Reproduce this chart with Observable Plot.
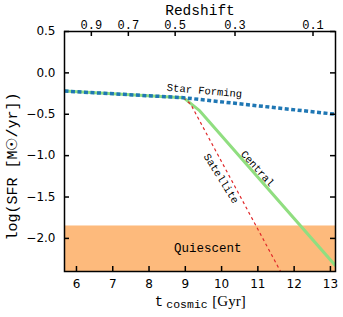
<!DOCTYPE html>
<html>
<head>
<meta charset="utf-8">
<script src="https://cdn.jsdelivr.net/npm/d3@7"></script>
<script src="https://cdn.jsdelivr.net/npm/@observablehq/plot@0.6"></script>
<style>
  html, body { margin: 0; padding: 0; background: #fff; }
</style>
</head>
<body>
<div id="chart"></div>
<script>
// ---- data ----
const xDomain = [5.67, 13.14];
const yDomain = [-2.4, 0.5];
const xTicks = [6, 7, 8, 9, 10, 11, 12, 13];
const yTicks = [0.5, 0.0, -0.5, -1.0, -1.5, -2.0];
const zLabels = ["0.9", "0.7", "0.5", "0.3", "0.1"];
const zTimes = [6.41, 7.43, 8.72, 10.37, 12.52];

const sfT = [5.67, 8.95, 13.14];
const sfV = [-0.22, -0.30, -0.50];
const cenT = [5.67, 8.95, 9.4, 13.14];
const cenV = [-0.22, -0.30, -0.46, -2.33];
const satT = [8.95, 9.15, 11.65];
const satV = [-0.30, -0.38, -2.42];
const quiescentBand = [-2.4, -1.85];

const labels = [
  {text: "Star Forming", t: 9.53, v: -0.215, rot: 5, size: 10.5},
  {text: "Central", t: 10.99, v: -1.157, rot: 48, size: 10.5},
  {text: "Satellite", t: 9.99, v: -1.277, rot: 58, size: 10.5},
  {text: "Quiescent", t: 9.62, v: -2.12, rot: 0, size: 12.5}
];

const pts = (T, V) => T.map((t, i) => ({t, v: V[i]}));
const innerW = 343 - 64 - 8;
const innerH = 317 - 31 - 46;
const tl = 5;

const chart = Plot.plot({
  width: 343,
  height: 317,
  marginLeft: 64,
  marginRight: 8,
  marginTop: 31,
  marginBottom: 46,
  style: {fontFamily: "DejaVu Sans", fontSize: "12px", color: "#000", background: "#fff"},
  x: {domain: xDomain},
  y: {domain: yDomain},
  marks: [
    Plot.rect([quiescentBand], {y1: d => d[0], y2: d => d[1], fill: "#fdba7c"}),
    Plot.line(pts(cenT, cenV), {x: "t", y: "v", stroke: "#90de80", strokeWidth: 3, strokeLinecap: "butt", clip: true}),
    Plot.line(pts(satT, satV), {x: "t", y: "v", stroke: "#e0282a", strokeWidth: 1.2, strokeDasharray: "3,3", strokeLinecap: "butt", clip: true}),
    Plot.line(pts(sfT, sfV), {x: "t", y: "v", stroke: "#1f77b4", strokeWidth: 3.5, strokeDasharray: "4,2.5", strokeLinecap: "butt", strokeLinejoin: "miter", clip: true}),
    Plot.text(labels, {x: "t", y: "v", text: "text", rotate: "rot", fontSize: d => d.size, fontFamily: "Liberation Mono", fill: "#000"}),
    Plot.frame({stroke: "#000", strokeWidth: 1.5}),
    Plot.tickX(xTicks, {x: d => d, insetTop: innerH - tl, stroke: "#000", strokeWidth: 1.5}),
    Plot.tickX(zTimes, {x: d => d, insetBottom: innerH - tl, stroke: "#000", strokeWidth: 1.5}),
    Plot.tickY(yTicks, {y: d => d, insetRight: innerW - tl, stroke: "#000", strokeWidth: 1.5}),
    Plot.tickY(yTicks, {y: d => d, insetLeft: innerW - tl, stroke: "#000", strokeWidth: 1.5}),
    Plot.axisX(xTicks, {tickSize: 0, tickPadding: 8, tickFormat: d => String(d), fontSize: 12, label: null}),
    Plot.axisY(yTicks, {tickSize: 0, tickPadding: 9, tickFormat: d3.format(".1f"), fontSize: 12, label: null}),
    Plot.text(zLabels, {x: (d, i) => zTimes[i], text: d => d, frameAnchor: "top", dy: -6.5, lineAnchor: "middle", fontFamily: "Liberation Mono", fontSize: 12}),
    Plot.text(["Redshift"], {text: d => d, frameAnchor: "top", dy: -21.5, lineAnchor: "middle", fontFamily: "Liberation Mono", fontSize: 14.5}),
    Plot.text(["t"], {text: d => d, frameAnchor: "bottom", dx: -41, dy: 30, lineAnchor: "middle", textAnchor: "middle", fontFamily: "Liberation Mono", fontSize: 14}),
    Plot.text(["cosmic"], {text: d => d, frameAnchor: "bottom", dx: -13, dy: 32.5, lineAnchor: "middle", textAnchor: "middle", fontFamily: "Liberation Mono", fontSize: 11.5}),
    Plot.text(["[Gyr]"], {text: d => d, frameAnchor: "bottom", dx: 29, dy: 30, lineAnchor: "middle", textAnchor: "middle", fontFamily: "Liberation Serif", fontSize: 15}),
    Plot.text(["log(SFR [M☉/yr])"], {text: d => d, frameAnchor: "left", dx: -52, dy: 15, rotate: -90, lineAnchor: "middle", textAnchor: "middle", fontFamily: "Liberation Mono", fontSize: 15})
  ]
});
document.getElementById("chart").appendChild(chart);
</script>
</body>
</html>
